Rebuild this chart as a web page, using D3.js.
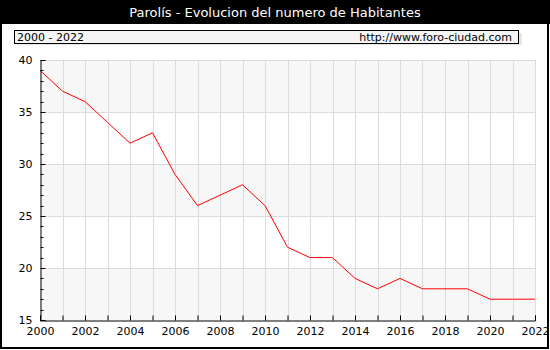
<!DOCTYPE html>
<html><head><meta charset="utf-8">
<script src="https://cdn.jsdelivr.net/npm/d3@7"></script>
<style>body{margin:0;background:#fff}svg{display:block}text{font-family:"DejaVu Sans",Verdana,sans-serif}</style>
</head><body>
<script>
const years = [2000,2001,2002,2003,2004,2005,2006,2007,2008,2009,2010,2011,2012,2013,2014,2015,2016,2017,2018,2019,2020,2021,2022];
const habitantes = [39,37,36,34,32,33,29,26,27,28,26,22,21,21,19,18,19,18,18,18,17,17,17];
const yTicks = [15,20,25,30,35,40];
const xTickLabels = [2000,2002,2004,2006,2008,2010,2012,2014,2016,2018,2020,2022];
const title = "Parolís - Evolucion del numero de Habitantes";
const rangeLabel = "2000 - 2022";
const siteLabel = "http://www.foro-ciudad.com";

const W=550,H=350;
const svg=d3.select("body").append("svg").attr("width",W).attr("height",H);
const L=40,R=535,T=60,B=320;
const x=d3.scaleLinear().domain([2000,2022]).range([L,R]);
const y=d3.scaleLinear().domain([15,40]).range([B,T]);

// bands
for(let i=0;i<yTicks.length-1;i++){
  svg.append("rect").attr("x",L).attr("width",R-L)
    .attr("y",y(yTicks[i+1])).attr("height",y(yTicks[i])-y(yTicks[i+1]))
    .attr("fill",i%2===0?"#f7f7f7":"#ffffff");
}
// grid
svg.append("g").selectAll("line").data(years.slice(1)).join("line")
  .attr("x1",d=>Math.round(x(d))+0.5).attr("x2",d=>Math.round(x(d))+0.5)
  .attr("y1",T).attr("y2",B).attr("stroke","#dcdcdc").attr("stroke-width",1);
svg.append("g").selectAll("line").data(yTicks.slice(1)).join("line")
  .attr("x1",L).attr("x2",R).attr("y1",d=>Math.round(y(d))+0.5).attr("y2",d=>Math.round(y(d))+0.5)
  .attr("stroke","#dcdcdc").attr("stroke-width",1);

// line
svg.append("path").datum(years.map((d,i)=>[d,habitantes[i]]))
  .attr("d",d3.line().x(d=>x(d[0])).y(d=>y(d[1])))
  .attr("fill","none").attr("stroke","#ff0000").attr("stroke-width",1);

// axes
const yAxis=d3.axisLeft(y).tickValues(yTicks).tickSize(-5).tickPadding(10).tickFormat(d3.format("d"));
const gy=svg.append("g").attr("transform",`translate(${L+0.5},0)`).call(yAxis);
const minor=d3.range(15,41).filter(v=>v%5!==0);
gy.selectAll(".minor").data(minor).join("line").attr("class","minor")
  .attr("x1",0).attr("x2",3).attr("y1",d=>Math.round(y(d))+0.5).attr("y2",d=>Math.round(y(d))+0.5).attr("stroke","#000");
const xAxis=d3.axisBottom(x).tickValues(years).tickSize(-5).tickPadding(10)
  .tickFormat(d=>xTickLabels.includes(d)?String(d):"");
const gx=svg.append("g").attr("transform",`translate(0,${B+0.5})`).call(xAxis);
[gx,gy].forEach(g=>{
  g.select(".domain").attr("stroke","#000");
  g.selectAll(".tick line").attr("stroke","#000");
  g.selectAll("text").attr("font-size",11).attr("fill","#000").attr("font-family","DejaVu Sans, Verdana, sans-serif");
});
gx.selectAll("text").attr("dy","0.71em").attr("y",7);
gy.selectAll("text").attr("x",-8);

// title bar
svg.append("rect").attr("x",0).attr("y",0).attr("width",W).attr("height",24).attr("fill","#000");
svg.append("text").attr("x",W/2).attr("y",17).attr("text-anchor","middle").attr("fill","#fff")
  .attr("font-size",13).text(title);

// legend box
svg.append("rect").attr("x",17).attr("y",33).attr("width",505).attr("height",12).attr("fill","#e6e6e6");
svg.append("rect").attr("x",14.5).attr("y",30.5).attr("width",504).attr("height",13).attr("fill","#f5f5f5").attr("stroke","#000");
svg.append("text").attr("x",17).attr("y",41).attr("font-size",11).text(rangeLabel);
svg.append("text").attr("x",512).attr("y",41).attr("text-anchor","end").attr("font-size",11).text(siteLabel);

// outer border
svg.append("rect").attr("x",1).attr("y",1).attr("width",W-3).attr("height",H-3).attr("fill","none").attr("stroke","#000").attr("stroke-width",2);
</script>
</body></html>
